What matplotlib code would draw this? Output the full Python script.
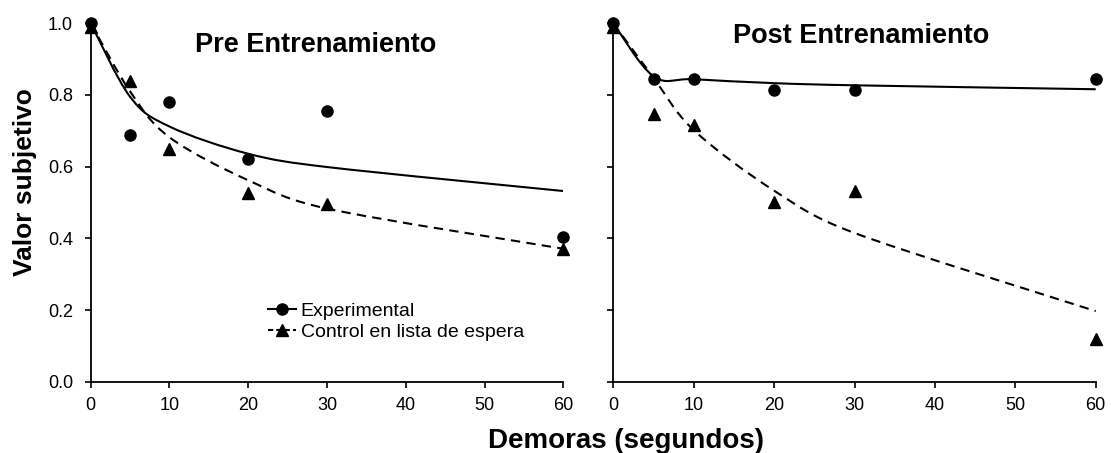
import matplotlib
matplotlib.use("Agg")
import matplotlib.pyplot as plt
from matplotlib.path import Path
from matplotlib.patches import PathPatch
from matplotlib.lines import Line2D

plt.rcParams['font.family'] = ['Liberation Sans', 'DejaVu Sans']

# delays (s)
delays = [0, 5, 10, 20, 30, 60]

# observed subjective values
pre_exp = [1.0, 0.687, 0.780, 0.622, 0.755, 0.405]
pre_ctrl = [0.99, 0.840, 0.650, 0.526, 0.495, 0.371]
post_exp = [1.0, 0.844, 0.844, 0.813, 0.813, 0.844]
post_ctrl = [0.99, 0.748, 0.716, 0.501, 0.532, 0.120]

# fitted values at each delay (drawn as smoothed lines)
pre_exp_fit = [1.0, 0.795, 0.712, 0.636, 0.599, 0.532]
pre_ctrl_fit = [1.0, 0.810, 0.682, 0.562, 0.483, 0.371]
post_exp_fit = [1.0, 0.852, 0.844, 0.833, 0.827, 0.816]
post_ctrl_fit = [1.0, 0.848, 0.702, 0.533, 0.415, 0.197]

titles = ["Pre Entrenamiento", "Post Entrenamiento"]
legend_labels = ["Experimental", "Control en lista de espera"]


def smooth_path(ax, xs, ys):
    # excel-like smoothed line, bezier handles worked out in screen units
    tr = ax.transData
    pts = [tuple(p) for p in tr.transform(list(zip(xs, ys)))]
    n = len(pts)

    def dist(a, b):
        return ((a[0] - b[0]) ** 2 + (a[1] - b[1]) ** 2) ** 0.5

    verts = [pts[0]]
    codes = [Path.MOVETO]
    for i in range(n - 1):
        p0 = pts[i - 1] if i > 0 else pts[i]
        p1 = pts[i]
        p2 = pts[i + 1]
        p3 = pts[i + 2] if i + 2 < n else pts[i + 1]
        d12 = dist(p1, p2)
        d02 = dist(p0, p2)
        d13 = dist(p1, p3)
        f1 = min(1 / 6, 0.5 * d12 / d02) if d02 > 0 else 0
        f2 = min(1 / 6, 0.5 * d12 / d13) if d13 > 0 else 0
        c1 = (p1[0] + f1 * (p2[0] - p0[0]), p1[1] + f1 * (p2[1] - p0[1]))
        c2 = (p2[0] - f2 * (p3[0] - p1[0]), p2[1] - f2 * (p3[1] - p1[1]))
        verts += [c1, c2, p2]
        codes += [Path.CURVE4] * 3
    verts = tr.inverted().transform(verts)
    return Path(verts, codes)


W, H = 1111, 453
fig = plt.figure(figsize=(W / 100, H / 100), dpi=100)
ax1 = fig.add_axes([90.7 / W, 1 - 381.7 / H, 472.6 / W, 358.4 / H])
ax2 = fig.add_axes([613.3 / W, 1 - 381.7 / H, 482.4 / W, 358.4 / H])

lw = 1.5
dash = (0, (4.5, 3))
ms_o, ms_t = 8, 9
panels = [
    (ax1, pre_exp, pre_ctrl, pre_exp_fit, pre_ctrl_fit, (0.2207, 0.9208)),
    (ax2, post_exp, post_ctrl, post_exp_fit, post_ctrl_fit, (0.2488, 0.944)),
]

for k, (ax, exp, ctrl, exp_fit, ctrl_fit, tpos) in enumerate(panels):
    ax.set_xlim(0, 60)
    ax.set_ylim(0, 1.0)
    ax.add_patch(PathPatch(smooth_path(ax, delays, ctrl_fit), fill=False,
                           edgecolor='black', lw=lw, linestyle=dash, zorder=2))
    ax.add_patch(PathPatch(smooth_path(ax, delays, exp_fit), fill=False,
                           edgecolor='black', lw=lw, zorder=2))
    ax.plot(delays, ctrl, linestyle='none', marker='^', ms=ms_t,
            color='black', clip_on=False, zorder=3)
    ax.plot(delays, exp, linestyle='none', marker='o', ms=ms_o,
            color='black', clip_on=False, zorder=4)

    ax.set_xticks(range(0, 61, 10))
    ax.set_yticks([0.0, 0.2, 0.4, 0.6, 0.8, 1.0])
    ax.set_yticklabels(["%.1f" % v for v in [0.0, 0.2, 0.4, 0.6, 0.8, 1.0]])
    for s in ['top', 'right']:
        ax.spines[s].set_visible(False)
    for s in ['left', 'bottom']:
        ax.spines[s].set_linewidth(1.3)
    ax.tick_params(axis='both', direction='out', length=4.2, width=1.2,
                   labelsize=13, colors='black')
    ax.tick_params(axis='x', pad=6.5)
    ax.tick_params(axis='y', pad=8.5)
    ax.text(tpos[0], tpos[1], titles[k], transform=ax.transAxes,
            ha='left', va='baseline', fontsize=19.5, fontweight='bold')

ax2.tick_params(axis='y', labelleft=False)

handles = [
    Line2D([], [], color='black', lw=lw, marker='o', ms=ms_o),
    Line2D([], [], color='black', lw=lw, linestyle=(0, (2.5, 1.5)),
           marker='^', ms=ms_t),
]
ax1.legend(handles, legend_labels, loc='upper left',
           bbox_to_anchor=(0.3758, 0.222), frameon=False, fontsize=14,
           handlelength=1.4, handletextpad=0.26, borderpad=0,
           borderaxespad=0, labelspacing=0.2)

fig.text(626 / W, 1 - 448 / H, "Demoras (segundos)", ha='center',
         va='baseline', fontsize=20, fontweight='bold')
fig.text(25 / W, 1 - 182.5 / H, "Valor subjetivo", ha='center',
         va='center', rotation=90, fontsize=19, fontweight='bold')

plt.savefig("out.png", dpi=100)
plt.close()
